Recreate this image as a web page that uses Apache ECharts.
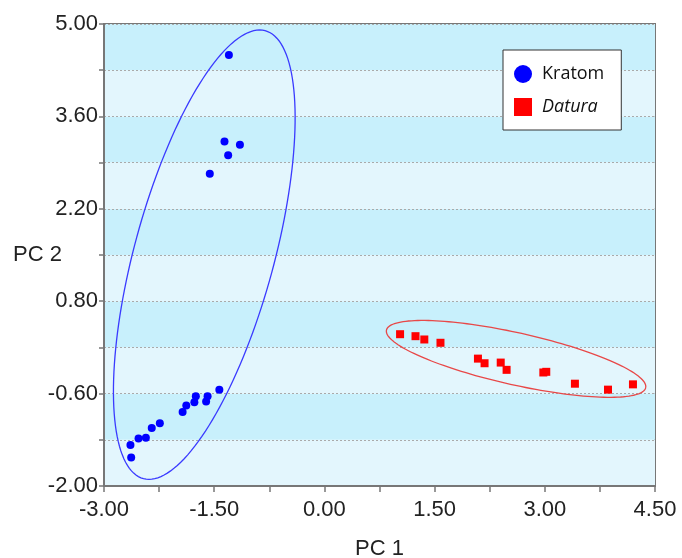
<!DOCTYPE html>
<html><head><meta charset="utf-8">
<script src="https://cdn.jsdelivr.net/npm/echarts@6/dist/echarts.min.js"></script>
<style>html,body{margin:0;padding:0;background:#fff}#c{width:682px;height:558px}</style>
</head><body><div id="c"></div>
<script>
const kratom = [
  [-1.30, 4.53], [-1.36, 3.22], [-1.15, 3.17], [-1.31, 3.01], [-1.56, 2.73],
  [-1.43, -0.54], [-1.75, -0.64], [-1.59, -0.64], [-1.61, -0.72], [-1.77, -0.73],
  [-1.88, -0.78], [-1.93, -0.88], [-2.24, -1.05], [-2.35, -1.12], [-2.43, -1.27],
  [-2.53, -1.28], [-2.64, -1.38], [-2.63, -1.57]
];
const datura = [
  [1.03, 0.30], [1.24, 0.27], [1.36, 0.22], [1.58, 0.17], [2.09, -0.07],
  [2.18, -0.14], [2.40, -0.13], [2.48, -0.24], [2.98, -0.28], [3.02, -0.27],
  [3.41, -0.45], [3.86, -0.54], [4.20, -0.46]
];
const xLabels = [-3, -1.5, 0, 1.5, 3, 4.5];
const yLabels = [-2, -0.6, 0.8, 2.2, 3.6, 5];
const yTicks = [-2, -1.3, -0.6, 0.1, 0.8, 1.5, 2.2, 2.9, 3.6, 4.3, 5];
const kratomEllipse = { center: [-1.635, 1.505], u: [0.753, 3.404], v: [0.981, 0] };
const daturaEllipse = { center: [2.609, -0.074], u: [1.764, -0.437], v: [-0.0768, -0.385] };

function ellipseSeries(id, e, color) {
  return {
    type: 'custom', id: id, silent: true, z: 1, data: [e.center],
    renderItem: function (params, api) {
      const pts = [];
      for (let i = 0; i <= 160; i++) {
        const t = i / 160 * 2 * Math.PI, c = Math.cos(t), s = Math.sin(t);
        pts.push(api.coord([e.center[0] + e.u[0] * c + e.v[0] * s, e.center[1] + e.u[1] * c + e.v[1] * s]));
      }
      return { type: 'polyline', shape: { points: pts }, style: { fill: null, stroke: color, lineWidth: 1.3 } };
    }
  };
}

const labelFont = { fontFamily: 'Liberation Sans', fontSize: 22, color: '#222' };
const chart = echarts.init(document.getElementById('c'), null, { renderer: 'canvas' });
chart.setOption({
  animation: false,
  backgroundColor: '#fff',
  grid: { left: 104, right: 27, top: 24, bottom: 72, containLabel: false, outerBoundsMode: 'none',
    show: true, borderColor: '#777', borderWidth: 2, backgroundColor: 'transparent' },
  legend: {
    data: [{ name: 'Kratom', icon: 'circle' }, { name: 'Datura', icon: 'rect' }],
    orient: 'vertical', left: 503, top: 50, itemWidth: 18, itemHeight: 18, itemGap: 15,
    padding: [15, 17, 14, 11], backgroundColor: '#fff', borderColor: '#333', borderWidth: 1,
    selectedMode: false,
    formatter: function (n) { return n === 'Datura' ? '{i|Datura}' : n; },
    textStyle: { fontFamily: 'Open Sans', fontSize: 18, color: '#111', padding: [0, 0, 0, 5],
      rich: { i: { fontFamily: 'Open Sans', fontSize: 18, fontStyle: 'italic', color: '#111' } } }
  },
  xAxis: {
    type: 'value', min: -3, max: 4.5, interval: 0.75,
    axisLine: { show: true, onZero: false, lineStyle: { color: '#777', width: 2 } },
    axisTick: { show: true, length: 6, lineStyle: { color: '#777', width: 1.5 } },
    axisLabel: Object.assign({ customValues: xLabels, margin: 13, formatter: function (v) { return Number(v).toFixed(2); } }, labelFont),
    splitLine: { show: false },
    name: 'PC 1', nameLocation: 'middle', nameGap: 52, nameMoveOverlap: false, nameTextStyle: labelFont
  },
  yAxis: {
    type: 'value', min: -2, max: 5,
    axisLine: { show: true, onZero: false, lineStyle: { color: '#777', width: 2 } },
    axisTick: { show: true, customValues: yTicks, length: 5, lineStyle: { color: '#777', width: 1.5 } },
    axisLabel: Object.assign({ customValues: yLabels, margin: 6, formatter: function (v) { return Number(v).toFixed(2); } }, labelFont),
    splitLine: { show: true, lineStyle: { color: '#aaa', type: [2, 2], width: 1 } },
    splitArea: { show: true, areaStyle: { color: ['#e3f6fd', '#c8f0fc'] } },
    name: 'PC 2', nameLocation: 'middle', nameRotate: 0, nameGap: 42, nameMoveOverlap: false, nameTextStyle: labelFont
  },
  series: [
    ellipseSeries('ek', kratomEllipse, '#3a3aff'),
    ellipseSeries('ed', daturaEllipse, '#e84848'),
    { type: 'scatter', name: 'Kratom', symbol: 'circle', symbolSize: 8, z: 3, itemStyle: { color: '#0000ff', opacity: 1 }, data: kratom },
    { type: 'scatter', name: 'Datura', symbol: 'rect', symbolSize: 8, z: 3, itemStyle: { color: '#ff0000', opacity: 1 }, data: datura }
  ]
});
</script></body></html>
